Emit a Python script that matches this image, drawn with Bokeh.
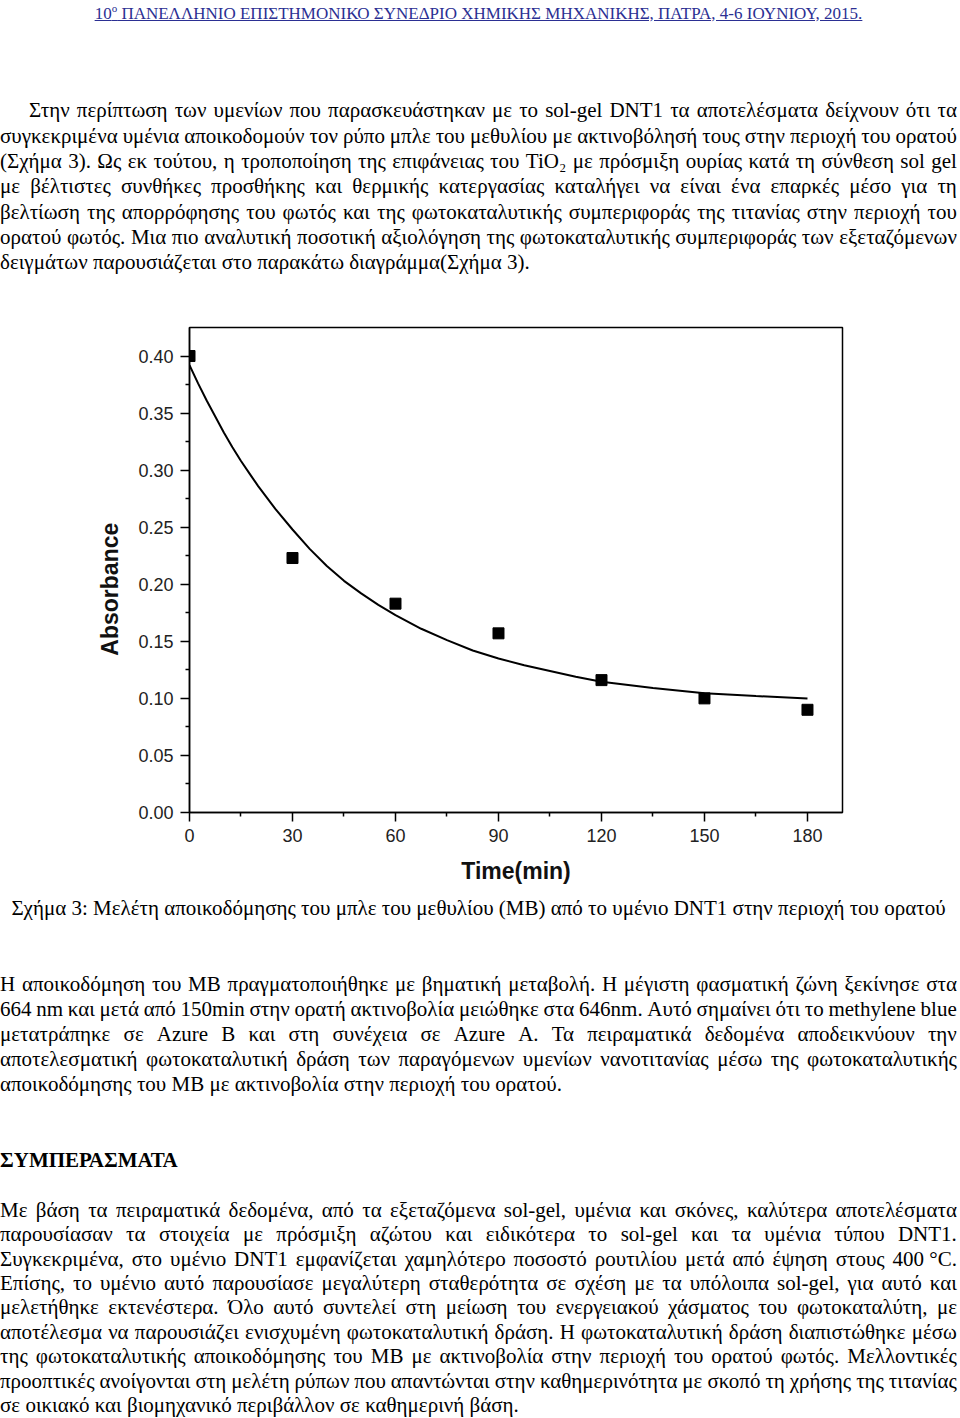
from bokeh.plotting import figure
from bokeh.models import Div, Range1d, FixedTicker, PrintfTickFormatter, ColumnDataSource
from bokeh.layouts import column
from bokeh.embed import file_html
from bokeh.resources import INLINE

# ---------------- data ----------------
time_min = [0, 30, 60, 90, 120, 150, 180]
absorbance = [0.400, 0.223, 0.183, 0.157, 0.116, 0.100, 0.090]

fit_time = [0, 2.5, 5, 7.5, 10, 12.5, 15, 17.5, 20, 25, 30, 35, 40, 45, 50, 55, 60, 67.5,
            75, 82.5, 90, 97.5, 105, 112.5, 120, 135, 150, 165, 180]
fit_abs = [0.392, 0.376, 0.361, 0.347, 0.333, 0.320, 0.308, 0.297, 0.286, 0.266, 0.248,
           0.231, 0.216, 0.203, 0.192, 0.182, 0.173, 0.161, 0.151, 0.142, 0.135, 0.129,
           0.124, 0.119, 0.1145, 0.109, 0.1045, 0.102, 0.100]

x_ticks = [0, 30, 60, 90, 120, 150, 180]
x_minor = [15, 45, 75, 105, 135, 165]
y_ticks = [0.00, 0.05, 0.10, 0.15, 0.20, 0.25, 0.30, 0.35, 0.40]
y_minor = [0.025, 0.075, 0.125, 0.175, 0.225, 0.275, 0.325, 0.375]

header = "10<sup style='font-size:11px'>ο</sup> ΠΑΝΕΛΛΗΝΙΟ ΕΠΙΣΤΗΜΟΝΙΚΟ ΣΥΝΕΔΡΙΟ ΧΗΜΙΚΗΣ ΜΗΧΑΝΙΚΗΣ, ΠΑΤΡΑ, 4-6 ΙΟΥΝΙΟΥ, 2015."

para1 = [
    "Στην περίπτωση των υμενίων που παρασκευάστηκαν με το sol-gel DNT1 τα αποτελέσματα δείχνουν ότι τα",
    "συγκεκριμένα υμένια αποικοδομούν τον ρύπο μπλε του μεθυλίου με ακτινοβόλησή τους στην περιοχή του ορατού",
    "(Σχήμα 3). Ως εκ τούτου, η τροποποίηση της επιφάνειας του TiO₂ με πρόσμιξη ουρίας κατά τη σύνθεση sol gel",
    "με βέλτιστες συνθήκες προσθήκης και θερμικής κατεργασίας καταλήγει να είναι ένα επαρκές μέσο για τη",
    "βελτίωση της απορρόφησης του φωτός και της φωτοκαταλυτικής συμπεριφοράς της τιτανίας στην περιοχή του",
    "ορατού φωτός. Μια πιο αναλυτική ποσοτική αξιολόγηση της φωτοκαταλυτικής συμπεριφοράς των εξεταζόμενων",
    "δειγμάτων παρουσιάζεται στο παρακάτω διαγράμμα(Σχήμα 3).",
]

caption = "Σχήμα 3: Μελέτη αποικοδόμησης του μπλε του μεθυλίου (ΜΒ) από το υμένιο DNT1 στην περιοχή του ορατού"

para2 = [
    "Η αποικοδόμηση του ΜΒ πραγματοποιήθηκε με βηματική μεταβολή. Η μέγιστη φασματική ζώνη ξεκίνησε στα",
    "664 nm και μετά από 150min στην ορατή ακτινοβολία μειώθηκε στα 646nm. Αυτό σημαίνει ότι το methylene blue",
    "μετατράπηκε σε Azure B και στη συνέχεια σε Azure A. Τα πειραματικά δεδομένα αποδεικνύουν την",
    "αποτελεσματική φωτοκαταλυτική δράση των παραγόμενων υμενίων νανοτιτανίας μέσω της φωτοκαταλυτικής",
    "αποικοδόμησης του ΜΒ με ακτινοβολία στην περιοχή του ορατού.",
]

heading = "ΣΥΜΠΕΡΑΣΜΑΤΑ"

para3 = [
    "Με βάση τα πειραματικά δεδομένα, από τα εξεταζόμενα sol-gel, υμένια και σκόνες, καλύτερα αποτελέσματα",
    "παρουσίασαν τα στοιχεία με πρόσμιξη αζώτου και ειδικότερα το sol-gel και τα υμένια τύπου DNT1.",
    "Συγκεκριμένα, στο υμένιο DNT1 εμφανίζεται χαμηλότερο ποσοστό ρουτιλίου μετά από έψηση στους 400\u00a0°C.",
    "Επίσης, το υμένιο αυτό παρουσίασε μεγαλύτερη σταθερότητα σε σχέση με τα υπόλοιπα sol-gel, για αυτό και",
    "μελετήθηκε εκτενέστερα. Όλο αυτό συντελεί στη μείωση του ενεργειακού χάσματος του φωτοκαταλύτη, με",
    "αποτέλεσμα να παρουσιάζει ενισχυμένη φωτοκαταλυτική δράση. Η φωτοκαταλυτική δράση διαπιστώθηκε μέσω",
    "της φωτοκαταλυτικής αποικοδόμησης του ΜΒ με ακτινοβολία στην περιοχή του ορατού φωτός. Μελλοντικές",
    "προοπτικές ανοίγονται στη μελέτη ρύπων που απαντώνται στην καθημερινότητα με σκοπό τη χρήσης της τιτανίας",
    "σε οικιακό και βιομηχανικό περιβάλλον σε καθημερινή βάση.",
]

# ---------------- text helpers ----------------
FS = 21
LINE_W = 957


def box_style(center, div_top, lh, size):
    top = center - lh / 2.0 - div_top
    return (f"position:absolute;left:0;width:{LINE_W}px;top:{top:.2f}px;height:{lh}px;"
            f"line-height:{lh}px;font-size:{size}px;box-sizing:border-box;white-space:nowrap;")


def plain_line(txt, center, div_top, lh, align="left", bold=False, size=FS, indent=0):
    st = box_style(center, div_top, lh, size)
    st += f"text-align:{align};padding-left:{indent}px;font-weight:{'bold' if bold else 'normal'};"
    return f'<div style="{st}">{txt}</div>'


def justified_line(txt, center, div_top, lh, size=FS, indent=0):
    st = box_style(center, div_top, lh, size)
    st += f"display:flex;justify-content:space-between;padding-left:{indent}px;"
    spans = "".join(f"<span>{w}</span>" for w in txt.split(" "))
    return f'<div style="{st}">{spans}</div>'


def paragraph(lines, first_center, step, div_top, indent=0):
    out = []
    for i, t in enumerate(lines):
        c = first_center + i * step
        ind = indent if i == 0 else 0
        if i == len(lines) - 1:
            out.append(plain_line(t, c, div_top, step, indent=ind))
        else:
            out.append(justified_line(t, c, div_top, step, indent=ind))
    return "".join(out)


def wrap(inner, h):
    return (f'<div style="position:relative;width:960px;height:{h}px;'
            f"font-family:'Liberation Serif','Times New Roman',serif;color:#000;\">{inner}</div>")


# ---------------- top text block ----------------
TOP_Y = 0
TOP_H = 300
top_html = plain_line(f'<span style="text-decoration:underline;color:#2b2f93">{header}</span>',
                      8, TOP_Y, 16, align="center", size=17)
top_html += paragraph(para1, 111, 25.3, TOP_Y, indent=29)
top_div = Div(text=wrap(top_html, TOP_H), width=960, height=TOP_H, margin=0)

# ---------------- chart ----------------
p = figure(width=960, height=595, x_range=Range1d(0, 190.2), y_range=Range1d(0, 0.425),
           output_backend="svg", toolbar_location=None,
           min_border_left=189, min_border_right=118, min_border_top=27, min_border_bottom=83)
p.grid.visible = False
p.background_fill_color = "white"
p.border_fill_color = "white"
p.outline_line_color = "black"
p.outline_line_width = 1.5

src = ColumnDataSource(dict(x=time_min, y=absorbance))
fit = ColumnDataSource(dict(x=fit_time, y=fit_abs))
p.line("x", "y", source=fit, line_color="black", line_width=2)
p.scatter("x", "y", source=src, marker="square", size=11, color="black")

p.xaxis.ticker = FixedTicker(ticks=x_ticks, minor_ticks=x_minor)
p.yaxis.ticker = FixedTicker(ticks=y_ticks, minor_ticks=y_minor)
p.yaxis.formatter = PrintfTickFormatter(format="%.2f")

for ax in (p.xaxis, p.yaxis):
    ax.axis_line_color = "black"
    ax.axis_line_width = 1.5
    ax.major_tick_line_color = "black"
    ax.minor_tick_line_color = "black"
    ax.major_tick_line_width = 1.5
    ax.minor_tick_line_width = 1.5
    ax.major_tick_out = 9
    ax.major_tick_in = 0
    ax.minor_tick_out = 4
    ax.minor_tick_in = 0
    ax.major_label_text_font = "Liberation Sans"
    ax.major_label_text_font_size = "18px"
    ax.major_label_text_color = "#222222"
    ax.major_label_standoff = 7
    ax.axis_label_text_font = "Liberation Sans"
    ax.axis_label_text_font_size = "23px"
    ax.axis_label_text_font_style = "bold"
    ax.axis_label_text_color = "#111111"

p.xaxis.axis_label = "Time(min)"
p.xaxis.axis_label_standoff = 13
p.yaxis.axis_label = "Absorbance" + "\u00a0" * 6
p.yaxis.axis_label_standoff = 12

# ---------------- bottom text block ----------------
BOT_Y = TOP_H + 595
BOT_H = 1418 - BOT_Y
bot_html = plain_line(caption, 908, BOT_Y, 25, align="center")
bot_html += paragraph(para2, 984, 25, BOT_Y)
bot_html += plain_line(heading, 1160, BOT_Y, 25, bold=True)
bot_html += paragraph(para3, 1210, 24.4, BOT_Y)
bot_div = Div(text=wrap(bot_html, BOT_H), width=960, height=BOT_H, margin=0)

layout = column(top_div, p, bot_div, spacing=0)
open("out.html", "w").write(file_html(layout, INLINE))
